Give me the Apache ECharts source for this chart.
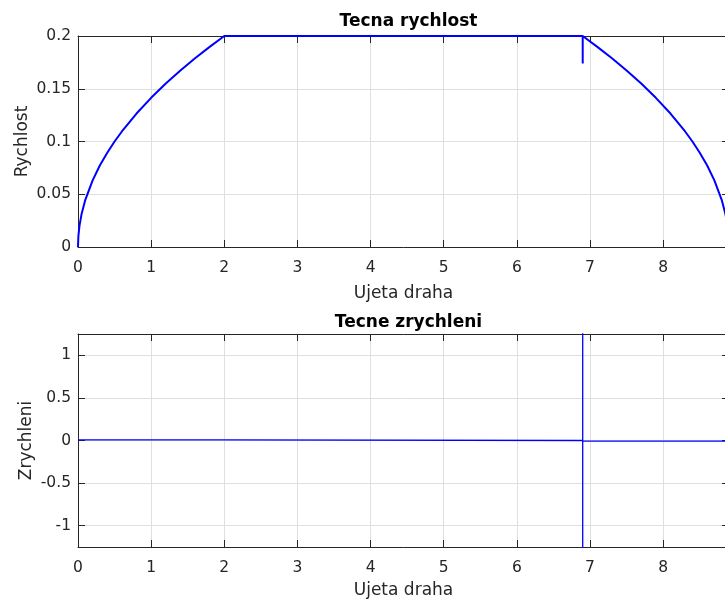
<!DOCTYPE html>
<html>
<head>
<meta charset="utf-8">
<script src="https://cdn.jsdelivr.net/npm/echarts@6/dist/echarts.min.js"></script>
<style>
  html, body { margin: 0; padding: 0; overflow: hidden; background: #fff; }
  #chart { width: 740px; height: 600px; }
</style>
</head>
<body>
<div id="chart"></div>
<script>
// Tangential speed along the travelled path
const speedPos = [0, 0.005, 0.02, 0.05, 0.1, 0.2, 0.3, 0.4, 0.5, 0.6, 0.8, 1.0, 1.2, 1.4, 1.6, 1.8, 2.0,
                  6.9, 6.9, 6.9,
                  7.1, 7.3, 7.5, 7.7, 7.9, 8.1, 8.3, 8.4, 8.5, 8.6, 8.7, 8.8, 8.85, 8.88, 8.895, 8.9];
const speedVal = [0, 0.01, 0.02, 0.0316, 0.0447, 0.0632, 0.0775, 0.0894, 0.1, 0.1095, 0.1265, 0.1414, 0.1549, 0.1673, 0.1789, 0.1897, 0.2,
                  0.2, 0.174, 0.2,
                  0.1897, 0.1789, 0.1673, 0.1549, 0.1414, 0.1265, 0.1095, 0.1, 0.0894, 0.0775, 0.0632, 0.0447, 0.0316, 0.02, 0.01, 0];

// Tangential acceleration along the travelled path
const accPos = [0, 2, 2, 6.9, 6.9, 6.9, 6.9, 8.9];
const accVal = [0.008, 0.008, 0, 0, 2.5, -2.5, -0.008, -0.008];

const xTicks = { min: 0, max: 8.9, interval: 1 };
const speedTicks = { min: 0, max: 0.2, interval: 0.05 };
const accRange = { min: -1.25, max: 1.25 };

const FONT = 'DejaVu Sans';
const INK = '#262626';
const GRID_CLR = '#dfdfdf';

function pairs(xs, ys) { return xs.map((x, i) => [x, ys[i]]); }

function mainX(gridIndex, gap) {
  return {
    type: 'value', gridIndex, position: 'bottom',
    min: xTicks.min, max: xTicks.max, interval: xTicks.interval,
    name: 'Ujeta draha', nameLocation: 'middle', nameGap: gap, nameMoveOverlap: false,
    nameTextStyle: { fontFamily: FONT, fontSize: 17, color: INK },
    axisLine: { show: true, onZero: false, lineStyle: { color: INK, width: 1 } },
    axisTick: { show: true, inside: true, length: 7, lineStyle: { color: INK } },
    axisLabel: { fontFamily: FONT, fontSize: 15.5, color: INK, margin: 13, showMaxLabel: false },
    splitLine: { show: true, lineStyle: { color: GRID_CLR, width: 1 } }
  };
}
function topX(gridIndex) {
  return {
    type: 'value', gridIndex, position: 'top',
    min: xTicks.min, max: xTicks.max, interval: xTicks.interval,
    axisLine: { show: true, onZero: false, lineStyle: { color: INK, width: 1 } },
    axisTick: { show: true, inside: true, length: 7, lineStyle: { color: INK } },
    axisLabel: { show: false }, splitLine: { show: false }
  };
}
function leftY(gridIndex, range, name, gap) {
  const edges = !!range.interval;
  return Object.assign({
    type: 'value', gridIndex, position: 'left',
    name, nameLocation: 'middle', nameGap: gap, nameRotate: 90, nameMoveOverlap: false,
    nameTextStyle: { fontFamily: FONT, fontSize: 17, color: INK },
    axisLine: { show: true, onZero: false, lineStyle: { color: INK, width: 1 } },
    axisTick: { show: true, inside: true, length: 7, lineStyle: { color: INK } },
    axisLabel: { fontFamily: FONT, fontSize: 15.5, color: INK, margin: 7, showMinLabel: edges, showMaxLabel: edges },
    splitLine: { show: true, lineStyle: { color: GRID_CLR, width: 1 } }
  }, range);
}
function rightY(gridIndex, range) {
  return Object.assign({
    type: 'value', gridIndex, position: 'right',
    axisLine: { show: true, onZero: false, lineStyle: { color: INK, width: 1 } },
    axisTick: { show: true, inside: true, length: 7, lineStyle: { color: INK } },
    axisLabel: { show: false }, splitLine: { show: false }
  }, range);
}

const chart = echarts.init(document.getElementById('chart'), null, { renderer: 'canvas' });
chart.setOption({
  animation: false,
  backgroundColor: '#fff',
  title: [
    { text: 'Tecna rychlost', left: 403.5, top: 8, textAlign: 'center',
      textStyle: { fontFamily: FONT, fontSize: 17, fontWeight: 'bold', color: '#000' } },
    { text: 'Tecne zrychleni', left: 403.5, top: 309, textAlign: 'center',
      textStyle: { fontFamily: FONT, fontSize: 17, fontWeight: 'bold', color: '#000' } }
  ],
  grid: [
    { left: 78, top: 36, width: 651, height: 211 },
    { left: 78, top: 334, width: 651, height: 213 }
  ],
  xAxis: [mainX(0, 38), topX(0), mainX(1, 35), topX(1)],
  yAxis: [
    leftY(0, speedTicks, 'Rychlost', 47), rightY(0, speedTicks),
    Object.assign(leftY(1, accRange, 'Zrychleni', 43), { splitNumber: 5 }), Object.assign(rightY(1, accRange), { splitNumber: 5 })
  ],
  series: [
    { type: 'line', xAxisIndex: 0, yAxisIndex: 0, data: pairs(speedPos, speedVal),
      showSymbol: false, clip: true, lineStyle: { color: '#0000ff', width: 2 } },
    { type: 'line', xAxisIndex: 2, yAxisIndex: 2, data: pairs(accPos, accVal),
      showSymbol: false, clip: true, lineStyle: { color: '#0000ff', width: 1.3 } }
  ]
});
</script>
</body>
</html>
